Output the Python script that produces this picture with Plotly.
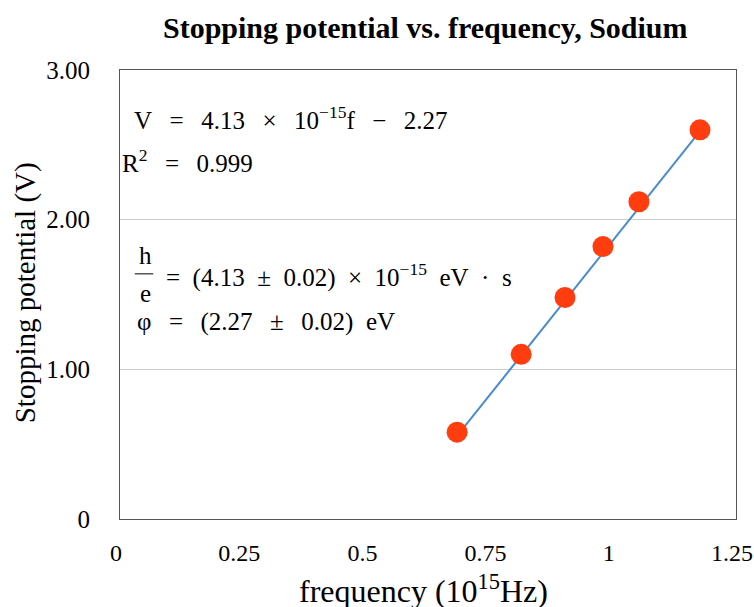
import plotly.graph_objects as go

# dados
frequencia = [0.684, 0.814, 0.903, 0.980, 1.053, 1.177]   # 10^15 Hz
potencial = [0.58, 1.10, 1.48, 1.82, 2.12, 2.60]            # V

# ajuste linear (V = a f + b)
inclinacao = 4.13
intercepto = -2.27

x_ticks = [0, 0.25, 0.5, 0.75, 1, 1.25]
x_labels = ["0", "0.25", "0.5", "0.75", "1", "1.25"]
y_ticks = [0, 1, 2, 3]
y_labels = ["0", "1.00", "2.00", "3.00"]

serif = "Liberation Serif, Times New Roman, serif"
S = "\u2002\u2009"   # espaçamento tipo LaTeX em volta dos operadores
s = "\u2002"

fig = go.Figure()

# linha de tendência
x_fit = [min(frequencia), max(frequencia)]
y_fit = [inclinacao * x + intercepto for x in x_fit]
fig.add_trace(go.Scatter(
    x=x_fit, y=y_fit, mode='lines',
    line=dict(color='#4A8BD0', width=2),
    showlegend=False, hoverinfo='skip'
))

# pontos medidos
fig.add_trace(go.Scatter(
    x=frequencia, y=potencial, mode='markers',
    marker=dict(color='#FF3D0F', size=21),
    showlegend=False
))

fs = 25
anots = [
    dict(x=0.0195, y=0.893, text=f"V{S}={S}4.13{S}×{S}10<sup>−15</sup>f{S}−{S}2.27"),
    dict(x=0.0, y=0.797, text=f"R<sup>2</sup>{S}={S}0.999"),
    dict(x=0.071, y=0.542, text=f"={s}(4.13{s}±{s}0.02){s}×{s}10<sup>−15</sup>{s}eV{s}·{s}s"),
    dict(x=0.024, y=0.439, text=f"φ{S}={S}(2.27{S}±{S}0.02)\u2002eV"),
]
annotations = []
for a in anots:
    annotations.append(dict(
        x=a['x'], y=a['y'], xref='paper', yref='paper', text=a['text'],
        xanchor='left', yanchor='middle', showarrow=False,
        font=dict(family=serif, size=fs, color='black')
    ))
# fração h/e
annotations.append(dict(x=0.0406, y=0.587, xref='paper', yref='paper', text="h",
                        xanchor='center', yanchor='middle', showarrow=False,
                        font=dict(family=serif, size=fs, color='black')))
annotations.append(dict(x=0.0406, y=0.503, xref='paper', yref='paper', text="e",
                        xanchor='center', yanchor='middle', showarrow=False,
                        font=dict(family=serif, size=fs, color='black')))
# títulos dos eixos
annotations.append(dict(x=0.492, y=-0.157, xref='paper', yref='paper',
                        text="frequency (10<sup>15</sup>Hz)",
                        xanchor='center', yanchor='middle', showarrow=False,
                        font=dict(family=serif, size=32, color='black')))
annotations.append(dict(x=-0.154, y=0.503, xref='paper', yref='paper',
                        text="Stopping potential (V)", textangle=-90,
                        xanchor='center', yanchor='middle', showarrow=False,
                        font=dict(family=serif, size=29, color='black')))

fig.update_layout(
    width=754, height=607,
    margin=dict(l=120, r=18, t=70, b=88),
    paper_bgcolor='white', plot_bgcolor='white',
    title=dict(text="<b>Stopping potential vs. frequency, Sodium</b>",
               x=0.564, xanchor='center', y=0.9555, yanchor='middle',
               font=dict(family=serif, size=30, color='black')),
    xaxis=dict(
        range=[0, 1.25], tickvals=x_ticks, ticktext=x_labels,
        showgrid=False, zeroline=False, showline=True, mirror=True,
        linecolor='#555555', linewidth=1, ticks='', ticklabelstandoff=12,
        ticklabelshift=-4,
        automargin=False, ticklabeloverflow='allow',
        tickfont=dict(family=serif, size=24, color='black')
    ),
    yaxis=dict(
        range=[0, 3], tickvals=y_ticks, ticktext=y_labels,
        showgrid=True, gridcolor='#CCCCCC', gridwidth=1,
        zeroline=False, showline=True, mirror=True,
        linecolor='#555555', linewidth=1, ticks='', ticklabelstandoff=24,
        automargin=False,
        tickfont=dict(family=serif, size=25, color='black')
    ),
    annotations=annotations,
    shapes=[dict(type='line', xref='paper', yref='paper',
                 x0=0.024, x1=0.054, y0=0.546, y1=0.546,
                 line=dict(color='black', width=1))]
)

# sem margem da página, para a figura ocupar a janela inteira
fig.write_html("out.html", config={'displayModeBar': False},
               post_script="document.body.style.margin='0';document.body.style.overflow='hidden';")
